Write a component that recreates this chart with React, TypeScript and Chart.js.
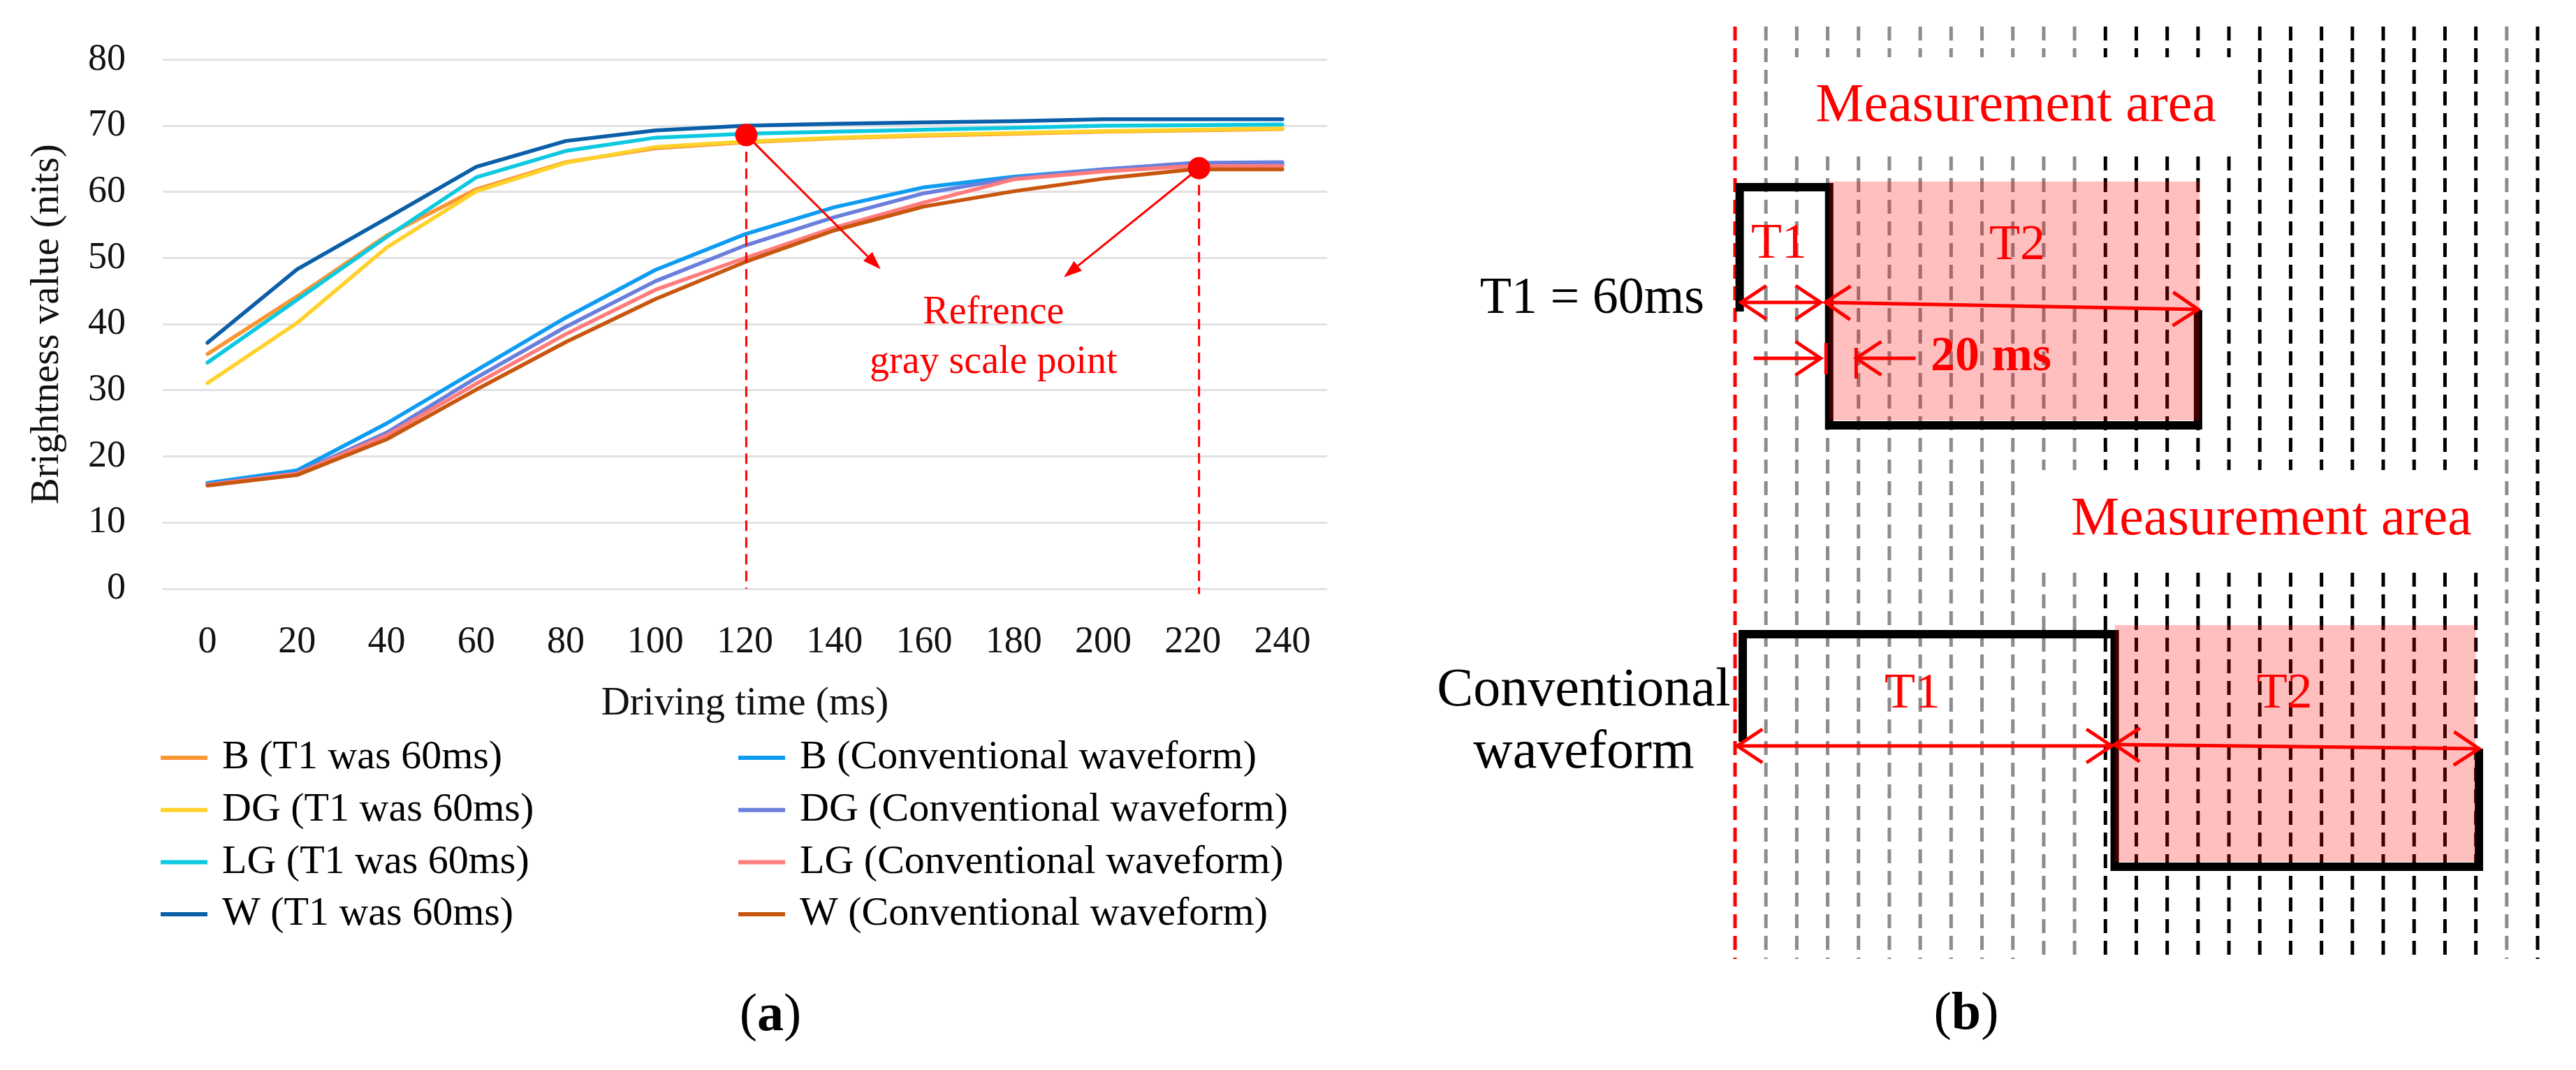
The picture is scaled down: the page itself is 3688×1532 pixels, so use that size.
import React, { useEffect, useRef } from 'react';
import { Chart, registerables } from 'chart.js';

Chart.register(...registerables);

const SERIF = "'Liberation Serif', 'Times New Roman', serif";

/* ------------------------------------------------------------------ */
/* (a) Brightness vs driving time                                      */
/* ------------------------------------------------------------------ */
const drivingTimeMs = [0, 20, 40, 60, 80, 100, 120, 140, 160, 180, 200, 220, 240];
const brightnessTicks = [0, 10, 20, 30, 40, 50, 60, 70, 80];

const bT1Nits = [35.5, 44.2, 53.4, 60.4, 64.5, 66.6, 67.5, 68.1, 68.5, 68.8, 69.1, 69.3, 69.5];
const dgT1Nits = [31.1, 40.2, 51.6, 60.1, 64.4, 66.8, 67.6, 68.2, 68.6, 68.9, 69.2, 69.4, 69.6];
const lgT1Nits = [34.2, 43.7, 53.2, 62.2, 66.2, 68.2, 68.8, 69.1, 69.4, 69.7, 70.0, 70.1, 70.2];
const wT1Nits = [37.2, 48.3, 56.0, 63.8, 67.7, 69.3, 70.0, 70.3, 70.5, 70.7, 71.0, 71.0, 71.0];
const bConvNits = [16.0, 17.9, 25.0, 33.0, 41.0, 48.2, 53.6, 57.7, 60.7, 62.3, 63.4, 64.2, 64.2];
const dgConvNits = [15.8, 17.5, 23.6, 31.9, 39.6, 46.5, 51.9, 56.2, 59.8, 62.1, 63.4, 64.4, 64.5];
const lgConvNits = [15.7, 17.4, 23.2, 31.0, 38.5, 45.2, 50.0, 54.6, 58.4, 61.9, 63.1, 63.9, 63.9];
const wConvNits = [15.6, 17.2, 22.6, 30.1, 37.3, 43.8, 49.4, 54.2, 57.8, 60.1, 62.0, 63.4, 63.4];

const seriesLabels = [
  'B (T1 was 60ms)',
  'DG (T1 was 60ms)',
  'LG (T1 was 60ms)',
  'W (T1 was 60ms)',
  'B (Conventional waveform)',
  'DG (Conventional waveform)',
  'LG (Conventional waveform)',
  'W (Conventional waveform)',
];
const seriesValues = [bT1Nits, dgT1Nits, lgT1Nits, wT1Nits, bConvNits, dgConvNits, lgConvNits, wConvNits];
const seriesColors = ['#FA9533', '#FFD12B', '#0CC9E0', '#0B5EA8', '#0D9CF2', '#6A7FDB', '#FF7C7C', '#C8560E'];
const seriesPlotSequence = [0, 2, 4, 6, 1, 3, 5, 7]; // later series drawn on top
const legendColumn = [0, 0, 0, 0, 1, 1, 1, 1];
const legendRow = [0, 1, 2, 3, 0, 1, 2, 3];

const refPointMs = [120.3, 221.4];
const refPointNits = [68.6, 63.6];
const refDropToNits = [0, -0.8];
const refArrowTipMs = [150.3, 191.2];
const refArrowTipNits = [48.3, 47.1];
const refNoteLines = ['Refrence', 'gray scale point'];
const refNoteMs = [175.5, 175.5];
const refNoteNits = [41.7, 34.2];

/* ------------------------------------------------------------------ */
/* (b) Driving waveform diagram (x in ms, y in diagram units)          */
/* ------------------------------------------------------------------ */
const frameLineMs = [0, 20, 40, 60, 80, 100, 120, 140, 160, 180, 200, 220, 240, 260, 280, 300, 320, 340, 360, 380, 400, 420, 440, 460, 480, 500, 520];
const frameLineTone = ['red', 'gray', 'gray', 'gray', 'gray', 'gray', 'gray', 'gray', 'gray', 'gray', 'gray', 'gray', 'black', 'black', 'black', 'black', 'black', 'black', 'black', 'black', 'black', 'black', 'black', 'black', 'black', 'gray', 'black'];
const frameLineSpan = [38, 1373];
const topGapMs = [40, 320];
const topGapSpan = [82, 224];
const bottomGapMs = [200, 480];
const bottomGapSpan = [673, 820];

const t1WaveMs = [3, 3, 61, 61, 300, 300];
const t1WaveLevel = [446, 268, 268, 609, 609, 444];
const convWaveMs = [5, 5, 246, 246, 482, 482];
const convWaveLevel = [1062, 908, 908, 1241, 1241, 1072];

const t1AreaMs = [61, 301];
const t1AreaLevel = [260, 602];
const convAreaMs = [246, 480];
const convAreaLevel = [895, 1234];

// [fromMs, fromLevel, toMs, toLevel, headsAtBothEnds]
const panelArrows: [number, number, number, number, boolean][] = [
  [4, 433, 55.5, 433, true],
  [58.5, 433, 300, 443, true],
  [12, 513, 55.5, 513, false],
  [117, 513, 78.5, 513, false],
  [1.5, 1068, 244, 1068, true],
  [246, 1066, 482, 1072, true],
];
const panelTickMarks: [number, number, number][] = [
  [59, 491, 536],
  [78.5, 498, 542],
];
// [text, ms, level, color, size, bold, align]
const panelLabels: [string, number, number, string, number, boolean, CanvasTextAlign][] = [
  ['Measurement area', 182, 153, '#FF0000', 78, false, 'center'],
  ['Measurement area', 347.5, 745, '#FF0000', 78, false, 'center'],
  ['T1', 28.5, 350, '#FF0000', 72, false, 'center'],
  ['T2', 182.8, 352, '#FF0000', 72, false, 'center'],
  ['20 ms', 126.7, 512, '#FF0000', 70, true, 'left'],
  ['T1 = 60ms', -19.9, 429, '#000000', 74, false, 'right'],
  ['T1', 115, 994, '#FF0000', 72, false, 'center'],
  ['T2', 356, 994, '#FF0000', 72, false, 'center'],
  ['Conventional', -98, 990, '#000000', 78, false, 'center'],
  ['waveform', -98, 1079, '#000000', 78, false, 'center'],
];
const panelCaption = { letter: 'b', ms: 149.8, level: 1453 };

/* ------------------------------------------------------------------ */
function drawCaption(ctx: CanvasRenderingContext2D, letter: string, cx: number, cy: number) {
  const reg = `76px ${SERIF}`;
  const bold = `bold 76px ${SERIF}`;
  ctx.save();
  ctx.font = reg;
  const wp = ctx.measureText('(').width;
  const wq = ctx.measureText(')').width;
  ctx.font = bold;
  const wl = ctx.measureText(letter).width;
  let x = cx - (wp + wl + wq) / 2;
  ctx.textAlign = 'left';
  ctx.textBaseline = 'middle';
  ctx.fillStyle = '#000';
  ctx.font = reg;
  ctx.fillText('(', x, cy);
  x += wp;
  ctx.font = bold;
  ctx.fillText(letter, x, cy);
  x += wl;
  ctx.font = reg;
  ctx.fillText(')', x, cy);
  ctx.restore();
}

const annotationsA = {
  id: 'annotationsA',
  afterDatasetsDraw(chart: any) {
    const { ctx, scales } = chart;
    const xs = scales.x;
    const ys = scales.y;
    ctx.save();
    ctx.strokeStyle = '#FF0000';
    ctx.fillStyle = '#FF0000';
    ctx.lineWidth = 3;
    refPointMs.forEach((t, i) => {
      const x1 = xs.getPixelForValue(t);
      const y1 = ys.getPixelForValue(refPointNits[i]);
      const x2 = xs.getPixelForValue(refArrowTipMs[i]);
      const y2 = ys.getPixelForValue(refArrowTipNits[i]);
      const ang = Math.atan2(y2 - y1, x2 - x1);
      const head = 26;
      const half = 9;
      const bx = x2 - head * Math.cos(ang);
      const by = y2 - head * Math.sin(ang);
      ctx.beginPath();
      ctx.moveTo(x1, y1);
      ctx.lineTo(bx, by);
      ctx.stroke();
      ctx.beginPath();
      ctx.moveTo(x2, y2);
      ctx.lineTo(bx + half * Math.sin(ang), by - half * Math.cos(ang));
      ctx.lineTo(bx - half * Math.sin(ang), by + half * Math.cos(ang));
      ctx.closePath();
      ctx.fill();
    });
    ctx.font = `56px ${SERIF}`;
    ctx.textAlign = 'center';
    ctx.textBaseline = 'middle';
    refNoteLines.forEach((line, i) => {
      ctx.fillText(line, xs.getPixelForValue(refNoteMs[i]), ys.getPixelForValue(refNoteNits[i]));
    });
    ctx.restore();
  },
  afterDraw(chart: any) {
    const { ctx } = chart;
    ctx.save();
    ctx.font = `58px ${SERIF}`;
    ctx.textAlign = 'left';
    ctx.textBaseline = 'middle';
    const colX = [230, 1057];
    for (let i = 0; i < seriesLabels.length; i++) {
      const ds = chart.data.datasets[i];
      const x0 = colX[legendColumn[i]];
      const y = 1085 + legendRow[i] * 74.7;
      ctx.strokeStyle = ds.borderColor;
      ctx.lineWidth = 6;
      ctx.beginPath();
      ctx.moveTo(x0, y);
      ctx.lineTo(x0 + 67, y);
      ctx.stroke();
      ctx.fillStyle = '#000';
      ctx.fillText(ds.label, x0 + 88, y);
    }
    ctx.restore();
    drawCaption(ctx, 'a', 1103, 1455);
  },
};

function BrightnessChart() {
  const ref = useRef<HTMLCanvasElement>(null);
  useEffect(() => {
    const canvas = ref.current as HTMLCanvasElement;
    const datasets: any[] = seriesLabels.map((label, i) => ({
      label,
      data: drivingTimeMs.map((t, k) => ({ x: t, y: seriesValues[i][k] })),
      borderColor: seriesColors[i],
      backgroundColor: seriesColors[i],
      borderWidth: 5.5,
      pointRadius: 0,
      fill: false,
      tension: 0,
      borderJoinStyle: 'round',
      borderCapStyle: 'round',
      order: 20 - seriesPlotSequence[i],
    }));
    refPointMs.forEach((t, j) => {
      datasets.push({
        label: 'reference drop ' + j,
        data: [
          { x: t, y: refPointNits[j] },
          { x: t, y: refDropToNits[j] },
        ],
        borderColor: '#FF0000',
        borderWidth: 3,
        borderDash: [15, 9],
        pointRadius: 0,
        fill: false,
        clip: false,
        order: 2,
      });
    });
    datasets.push({
      label: 'Reference gray scale point',
      data: refPointMs.map((t, j) => ({ x: t, y: refPointNits[j] })),
      showLine: false,
      pointRadius: 16,
      pointBackgroundColor: '#FF0000',
      pointBorderColor: '#FF0000',
      pointBorderWidth: 0,
      borderColor: '#FF0000',
      fill: false,
      clip: false,
      order: 1,
    });
    const tickFont = { family: SERIF, size: 54 };
    const titleFont = { family: SERIF, size: 57 };
    const chart = new Chart(canvas, {
      type: 'line',
      data: { datasets },
      plugins: [annotationsA],
      options: {
        animation: false,
        responsive: false,
        devicePixelRatio: 1,
        layout: { padding: { left: 0, right: 60, top: 67, bottom: 486 } },
        plugins: { legend: { display: false }, tooltip: { enabled: false } },
        elements: { point: { radius: 0 } },
        scales: {
          x: {
            type: 'linear',
            min: -10,
            max: 250,
            afterBuildTicks: (s: any) => {
              s.ticks = drivingTimeMs.map((v) => ({ value: v }));
            },
            afterFit: (s: any) => {
              s.height = 203;
            },
            grid: { display: false, drawTicks: false },
            border: { display: false },
            ticks: { font: tickFont, color: '#111', padding: 44, maxRotation: 0, autoSkip: false },
            title: { display: true, text: 'Driving time (ms)', font: titleFont, color: '#111', padding: { top: 0, bottom: 4 } },
          },
          y: {
            type: 'linear',
            min: 0,
            max: 80,
            afterBuildTicks: (s: any) => {
              s.ticks = brightnessTicks.map((v) => ({ value: v }));
            },
            afterFit: (s: any) => {
              s.width = 233;
            },
            grid: { color: '#e2e2e2', lineWidth: 3, drawTicks: false },
            border: { display: false },
            ticks: { font: tickFont, color: '#111', padding: 53 },
            title: { display: true, text: 'Brightness value (nits)', font: titleFont, color: '#111', padding: { top: 34, bottom: 0 } },
          },
        },
      } as any,
    });
    return () => chart.destroy();
  }, []);
  return (
    <canvas
      ref={ref}
      width={1960}
      height={1532}
      style={{ position: 'absolute', left: 0, top: 0, width: 1960, height: 1532, display: 'block' }}
    />
  );
}

/* ------------------------------------------------------------------ */
const annotationsB = {
  id: 'annotationsB',
  afterDatasetsDraw(chart: any) {
    const { ctx, scales } = chart;
    const px = (ms: number) => scales.x.getPixelForValue(ms);
    const py = (lv: number) => scales.y.getPixelForValue(lv);
    ctx.save();
    ctx.strokeStyle = '#FF0000';
    ctx.lineWidth = 5;
    ctx.lineCap = 'butt';
    ctx.lineJoin = 'miter';
    const chevron = (tx: number, ty: number, ang: number) => {
      const len = 36;
      const half = 24;
      const bx = tx - len * Math.cos(ang);
      const by = ty - len * Math.sin(ang);
      ctx.beginPath();
      ctx.moveTo(bx + half * Math.sin(ang), by - half * Math.cos(ang));
      ctx.lineTo(tx, ty);
      ctx.lineTo(bx - half * Math.sin(ang), by + half * Math.cos(ang));
      ctx.stroke();
    };
    panelArrows.forEach(([m1, l1, m2, l2, both]) => {
      const x1 = px(m1);
      const y1 = py(l1);
      const x2 = px(m2);
      const y2 = py(l2);
      ctx.beginPath();
      ctx.moveTo(x1, y1);
      ctx.lineTo(x2, y2);
      ctx.stroke();
      const ang = Math.atan2(y2 - y1, x2 - x1);
      chevron(x2, y2, ang);
      if (both) chevron(x1, y1, ang + Math.PI);
    });
    panelTickMarks.forEach(([m, a, b]) => {
      ctx.beginPath();
      ctx.moveTo(px(m), py(a));
      ctx.lineTo(px(m), py(b));
      ctx.stroke();
    });
    ctx.textBaseline = 'middle';
    panelLabels.forEach(([text, m, lv, color, size, bold, align]) => {
      ctx.font = `${bold ? 'bold ' : ''}${size}px ${SERIF}`;
      ctx.fillStyle = color;
      ctx.textAlign = align;
      ctx.fillText(text, px(m), py(lv));
    });
    ctx.restore();
    drawCaption(ctx, panelCaption.letter, px(panelCaption.ms), py(panelCaption.level));
  },
};

function frameLinePoints(ms: number) {
  const pts: any[] = [{ x: ms, y: frameLineSpan[0] }];
  if (ms >= topGapMs[0] && ms <= topGapMs[1]) {
    pts.push({ x: ms, y: topGapSpan[0] }, { x: ms, y: null }, { x: ms, y: topGapSpan[1] });
  }
  if (ms >= bottomGapMs[0] && ms <= bottomGapMs[1]) {
    pts.push({ x: ms, y: bottomGapSpan[0] }, { x: ms, y: null }, { x: ms, y: bottomGapSpan[1] });
  }
  pts.push({ x: ms, y: frameLineSpan[1] });
  return pts;
}

const toneColor: Record<string, string> = { red: '#FF0000', gray: '#8C8C8C', black: '#000000' };
const toneWidth: Record<string, number> = { red: 5, gray: 5, black: 5 };

function WaveformDiagram() {
  const ref = useRef<HTMLCanvasElement>(null);
  useEffect(() => {
    const canvas = ref.current as HTMLCanvasElement;
    const datasets: any[] = [];
    frameLineMs.forEach((ms, i) => {
      const tone = frameLineTone[i];
      datasets.push({
        label: 'frame ' + ms,
        data: frameLinePoints(ms),
        borderColor: toneColor[tone],
        borderWidth: toneWidth[tone],
        borderDash: [20, 11],
        borderCapStyle: 'butt',
        pointRadius: 0,
        fill: false,
        spanGaps: false,
        clip: false,
        order: 10,
      });
    });
    datasets.push({
      label: 'T1 = 60ms waveform',
      data: t1WaveMs.map((m, k) => ({ x: m, y: t1WaveLevel[k] })),
      borderColor: '#000',
      borderWidth: 12,
      borderJoinStyle: 'miter',
      borderCapStyle: 'butt',
      pointRadius: 0,
      fill: false,
      clip: false,
      order: 3,
    });
    datasets.push({
      label: 'Conventional waveform',
      data: convWaveMs.map((m, k) => ({ x: m, y: convWaveLevel[k] })),
      borderColor: '#000',
      borderWidth: 12,
      borderJoinStyle: 'miter',
      borderCapStyle: 'butt',
      pointRadius: 0,
      fill: false,
      clip: false,
      order: 3,
    });
    datasets.push({
      label: 'Measurement area (T1 = 60ms)',
      data: t1AreaMs.map((m) => ({ x: m, y: t1AreaLevel[0] })),
      borderWidth: 0,
      borderColor: 'rgba(0,0,0,0)',
      backgroundColor: 'rgba(255, 0, 0, 0.25)',
      fill: { value: t1AreaLevel[1] },
      pointRadius: 0,
      clip: false,
      order: 1,
    });
    datasets.push({
      label: 'Measurement area (conventional)',
      data: convAreaMs.map((m) => ({ x: m, y: convAreaLevel[0] })),
      borderWidth: 0,
      borderColor: 'rgba(0,0,0,0)',
      backgroundColor: 'rgba(255, 0, 0, 0.25)',
      fill: { value: convAreaLevel[1] },
      pointRadius: 0,
      clip: false,
      order: 1,
    });
    const chart = new Chart(canvas, {
      type: 'line',
      data: { datasets },
      plugins: [annotationsB],
      options: {
        animation: false,
        responsive: false,
        devicePixelRatio: 1,
        layout: { padding: { left: 524, right: 55, top: 0, bottom: 0 } },
        plugins: { legend: { display: false }, tooltip: { enabled: false } },
        elements: { point: { radius: 0 } },
        scales: {
          x: { type: 'linear', min: 0, max: 520, display: false },
          y: { type: 'linear', min: 0, max: 1532, reverse: true, display: false },
        },
      } as any,
    });
    return () => chart.destroy();
  }, []);
  return (
    <canvas
      ref={ref}
      width={1728}
      height={1532}
      style={{ position: 'absolute', left: 1960, top: 0, width: 1728, height: 1532, display: 'block' }}
    />
  );
}

export default function App() {
  return (
    <div style={{ position: 'absolute', left: 0, top: 0, width: 3688, height: 1532, background: '#fff', overflow: 'hidden' }}>
      <BrightnessChart />
      <WaveformDiagram />
    </div>
  );
}
